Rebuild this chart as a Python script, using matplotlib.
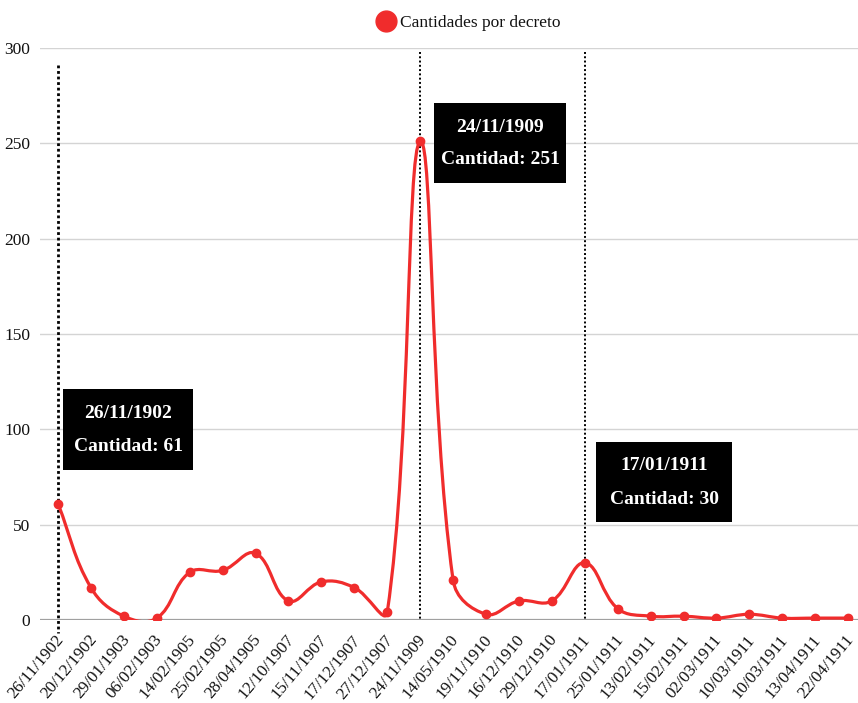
import matplotlib
matplotlib.use("Agg")
import matplotlib.pyplot as plt
import numpy as np
from matplotlib.path import Path
from matplotlib.patches import PathPatch, Rectangle
from matplotlib.lines import Line2D
import matplotlib.transforms as mtransforms

fechas = ["26/11/1902", "20/12/1902", "29/01/1903", "06/02/1903", "14/02/1905",
          "25/02/1905", "28/04/1905", "12/10/1907", "15/11/1907", "17/12/1907",
          "27/12/1907", "24/11/1909", "14/05/1910", "19/11/1910", "16/12/1910",
          "29/12/1910", "17/01/1911", "25/01/1911", "13/02/1911", "15/02/1911",
          "02/03/1911", "10/03/1911", "10/03/1911", "13/04/1911", "22/04/1911"]
cantidades = [61, 17, 2, 1, 25, 26, 35, 10, 20, 17, 4, 251, 21, 3, 10, 10, 30,
              6, 2, 2, 1, 3, 1, 1, 1]
destacados = [0, 11, 16]
yticks = [0, 50, 100, 150, 200, 250, 300]

RED = "#f02c2c"
W, H = 858, 703
plt.rcParams['font.family'] = ['Liberation Serif', 'DejaVu Serif']

fig = plt.figure(figsize=(W / 100, H / 100), dpi=100)
ax = fig.add_axes([40 / W, 1 - 620 / H, 818 / W, 572 / H])
x = np.arange(len(cantidades))
ax.set_xlim(-0.547, 24.30)
ax.set_ylim(0, 300)

for s in ax.spines.values():
    s.set_visible(False)
ax.set_yticks(yticks)
ax.grid(axis='y', color='#d4d4d4', lw=1)
ax.set_axisbelow(True)
ax.axhline(0, color='#a0a0a0', lw=1.6, zorder=1)
ax.tick_params(axis='both', length=0, colors='#111111')
ax.tick_params(axis='y', labelsize=12.5, pad=7)
ax.tick_params(axis='x', pad=0)
ax.set_xticks(x)
ax.set_xticklabels(fechas, rotation=50, ha='right', va='center',
                   rotation_mode='anchor', fontsize=12.3, color='#111111')
offset = mtransforms.ScaledTranslation(3 / 100, -17 / 100, fig.dpi_scale_trans)
for lbl in ax.get_xticklabels():
    lbl.set_transform(lbl.get_transform() + offset)

# Chart.js-like spline (tension 0.4) computed in pixel space
pts = ax.transData.transform(np.column_stack([x, cantidades]))
t = 0.4
n = len(pts)
cp_prev = np.zeros_like(pts)
cp_next = np.zeros_like(pts)
for i in range(n):
    p0 = pts[max(i - 1, 0)]
    p1 = pts[i]
    p2 = pts[min(i + 1, n - 1)]
    d01 = np.hypot(*(p1 - p0))
    d12 = np.hypot(*(p2 - p1))
    tot = d01 + d12
    s01 = d01 / tot if tot else 0
    s12 = d12 / tot if tot else 0
    cp_prev[i] = p1 - t * s01 * (p2 - p0)
    cp_next[i] = p1 + t * s12 * (p2 - p0)
verts = [pts[0]]
codes = [Path.MOVETO]
for i in range(n - 1):
    verts += [cp_next[i], cp_prev[i + 1], pts[i + 1]]
    codes += [Path.CURVE4] * 3
inv = ax.transData.inverted()
verts = inv.transform(np.array(verts))
ax.add_patch(PathPatch(Path(verts, codes), facecolor='none', edgecolor=RED,
                       lw=2.3, zorder=3, capstyle='round', joinstyle='round'))
ax.plot(x, cantidades, 'o', color=RED, ms=6, zorder=4)

# dotted reference lines
ax.plot([x[destacados[0]]] * 2, [291, -7], color='black', ls=(0, (1, 1)),
        lw=2.0, clip_on=False, zorder=2)
for i in destacados[1:]:
    ax.plot([x[i]] * 2, [298, 0], color='black', ls=(0, (1, 1.2)), lw=1.4,
            clip_on=False, zorder=2)

# annotation boxes (figure pixel coordinates)
boxes = [(63, 389, 193, 470), (434, 103, 566, 183), (596, 442, 732, 522)]
for (bx0, by0, bx1, by1), i in zip(boxes, destacados):
    fig.add_artist(Rectangle((bx0 / W, 1 - by1 / H), (bx1 - bx0) / W,
                             (by1 - by0) / H, transform=fig.transFigure,
                             facecolor='black', edgecolor='none', zorder=5))
    cx = (bx0 + bx1) / 2 / W
    cy = 1 - (by0 + by1) / 2 / H
    fig.text(cx, cy + 16 / H, fechas[i], color='white', fontsize=14,
             fontweight='bold', ha='center', va='center', zorder=6)
    fig.text(cx, cy - 17 / H, f"Cantidad: {cantidades[i]}", color='white',
             fontsize=14, fontweight='bold', ha='center', va='center', zorder=6)

handle = Line2D([], [], marker='o', color=RED, ls='none', ms=15)
fig.legend([handle], ["Cantidades por decreto"], loc='center',
           bbox_to_anchor=(468 / W, 1 - 23 / H), frameon=False,
           fontsize=12.5, handletextpad=0.2, handlelength=1.2,
           labelcolor='#111111')

fig.savefig("out.png", dpi=100)
